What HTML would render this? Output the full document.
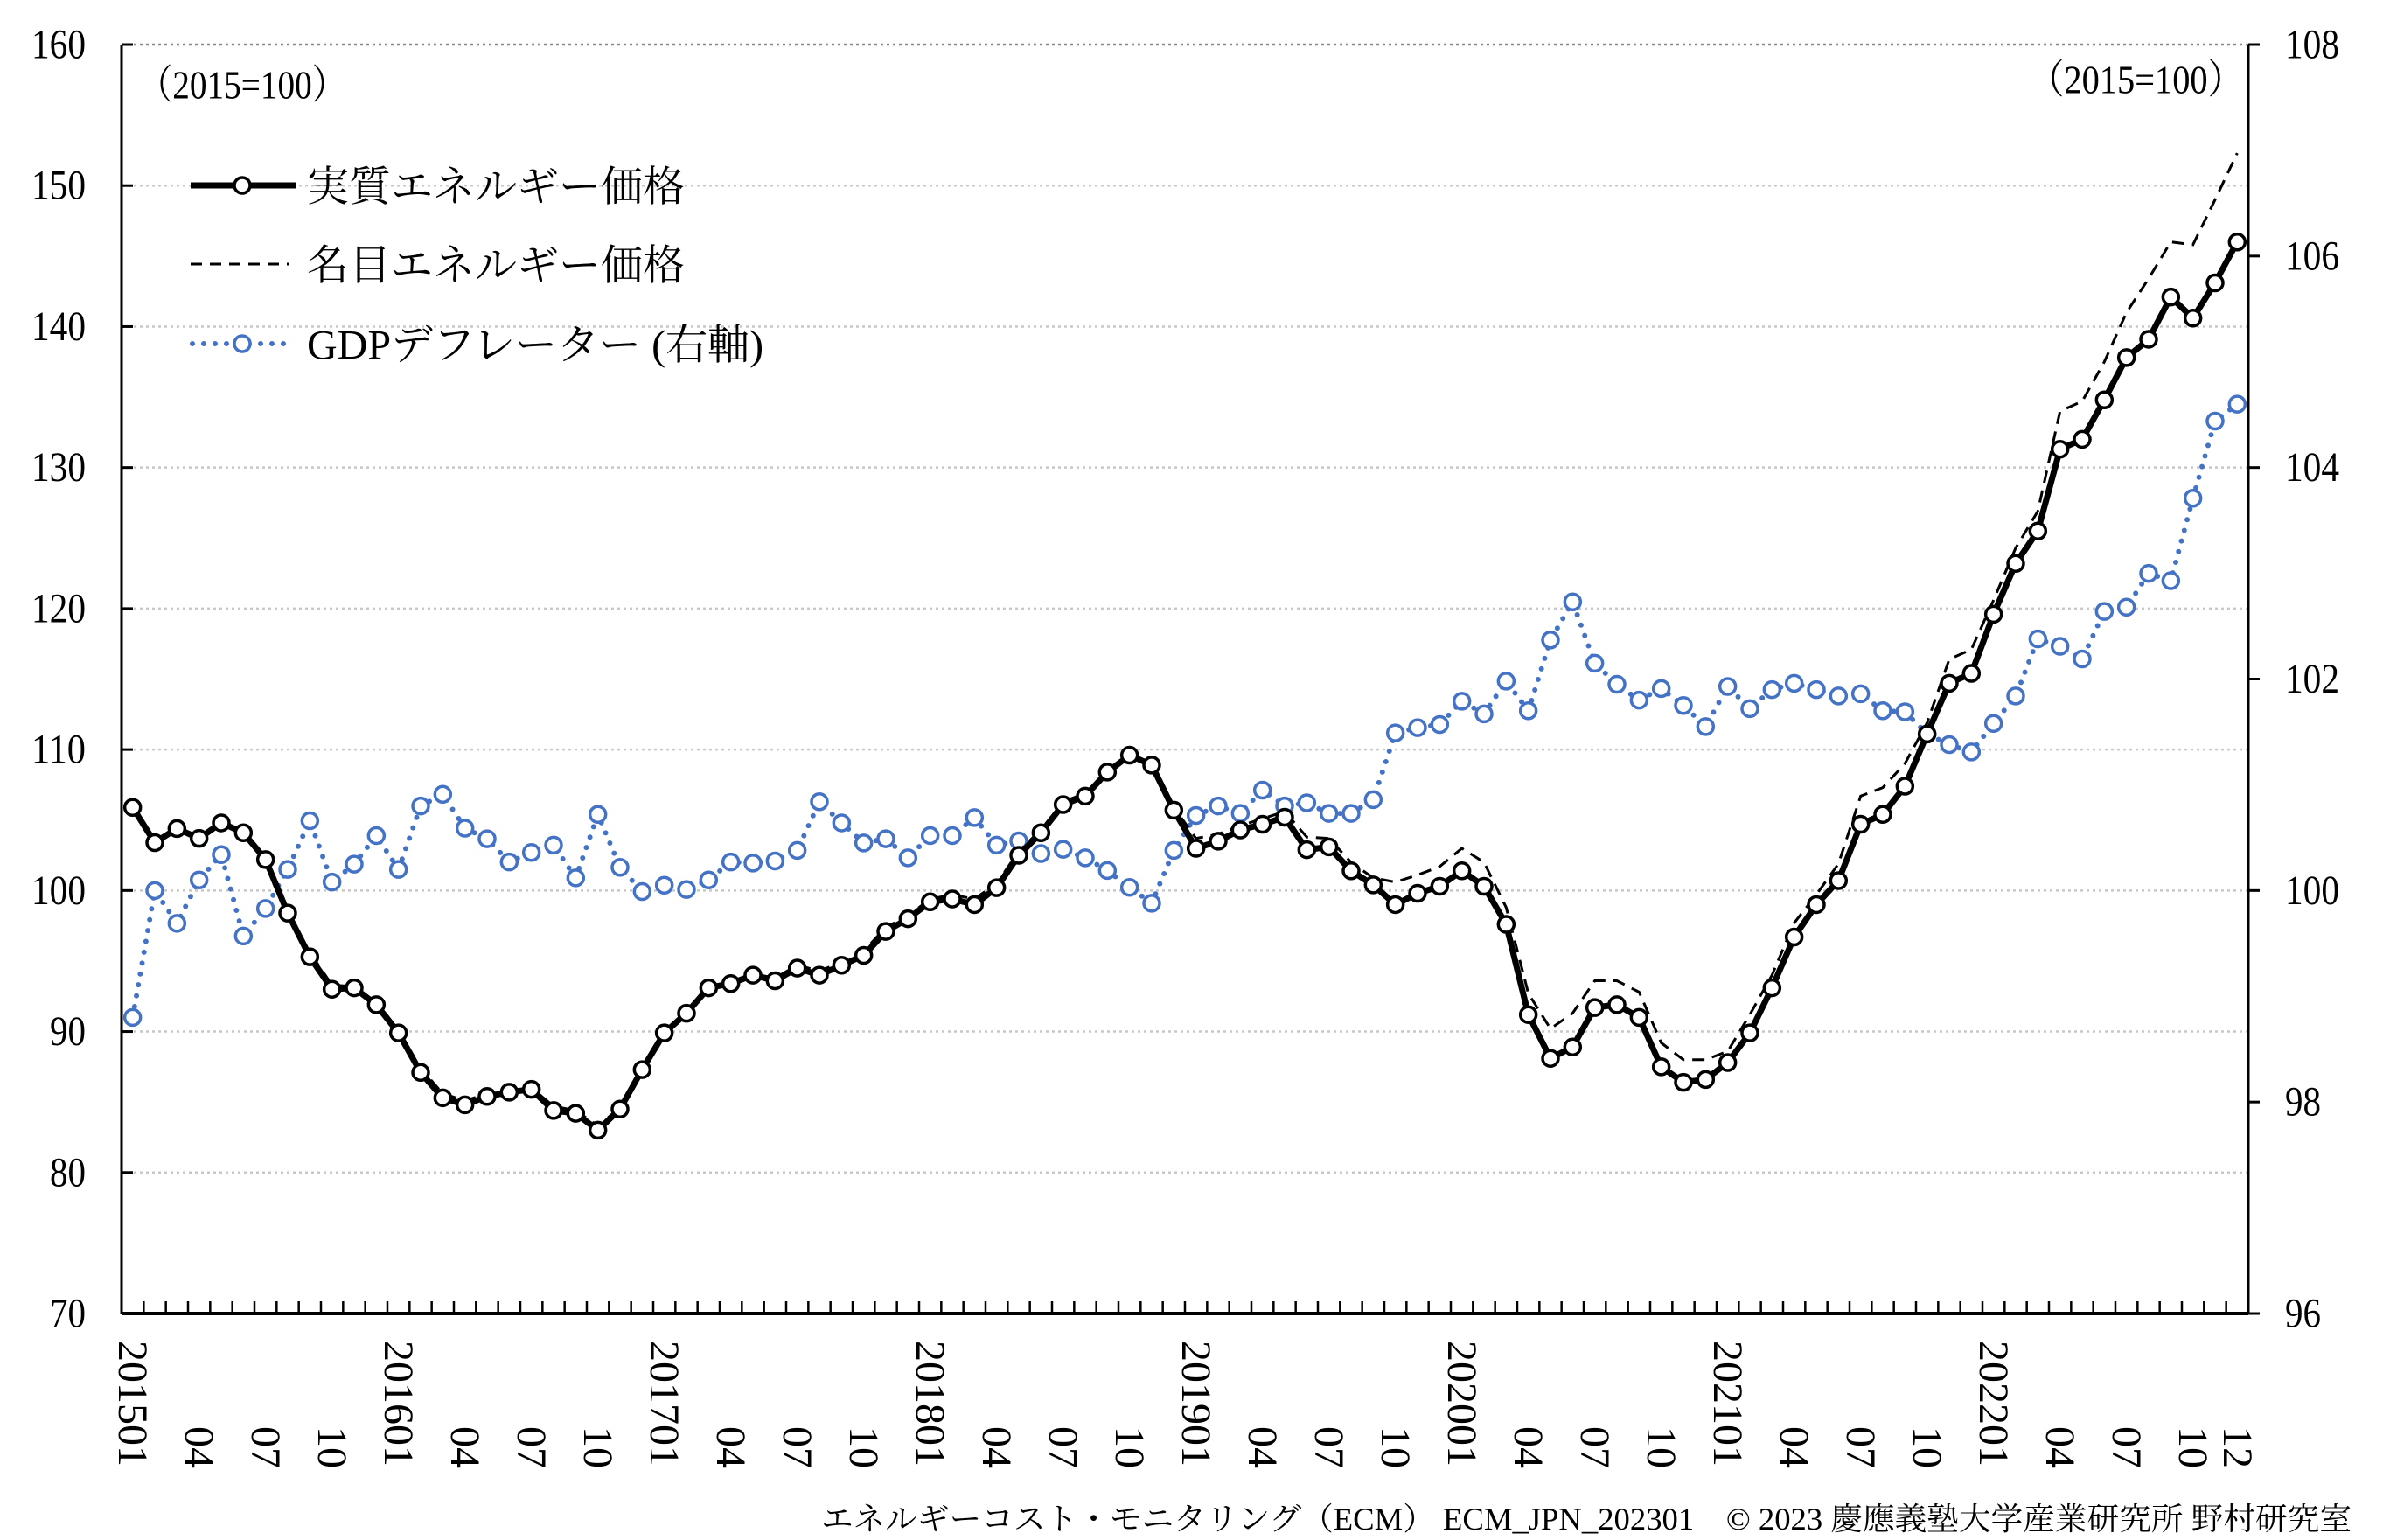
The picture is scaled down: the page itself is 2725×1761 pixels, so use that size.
<!DOCTYPE html>
<html><head><meta charset="utf-8"><style>
html,body{margin:0;padding:0;background:#fff}
svg{display:block}
text{font-family:"Liberation Serif","Noto Serif CJK JP",serif;fill:#000}
</style></head><body>
<svg id="chart" width="2725" height="1761" viewBox="0 0 2725 1761" xmlns="http://www.w3.org/2000/svg">
<g id="grid"></g>
<g id="axes"></g>
<g id="series"></g>
<g id="legend">
  <line x1="218" y1="212" x2="338" y2="212" stroke="#000" stroke-width="7"/>
  <circle cx="277" cy="212" r="9" fill="#fff" stroke="#000" stroke-width="3.5"/>
  <text x="351" y="214" font-size="48" dominant-baseline="central">実質エネルギー価格</text>
  <line x1="218" y1="302" x2="330" y2="302" stroke="#000" stroke-width="3" stroke-dasharray="13,9"/>
  <text x="351" y="304" font-size="48" dominant-baseline="central">名目エネルギー価格</text>
  <line x1="220" y1="393" x2="336" y2="393" stroke="#4472C4" stroke-width="6" stroke-linecap="round" stroke-dasharray="0,13"/>
  <circle cx="277" cy="393" r="9" fill="#fff" stroke="#4472C4" stroke-width="3.5"/>
  <text x="351" y="395" font-size="48" dominant-baseline="central">GDPデフレーター (右軸)</text>
</g>
<text x="158" y="97" font-size="46" dominant-baseline="central" textLength="238" lengthAdjust="spacingAndGlyphs">（2015=100）</text>
<text x="2565" y="91" font-size="46" dominant-baseline="central" text-anchor="end" textLength="245" lengthAdjust="spacingAndGlyphs">（2015=100）</text>
<text x="2689" y="1737" font-size="36" dominant-baseline="central" text-anchor="end" textLength="1750" lengthAdjust="spacingAndGlyphs">エネルギーコスト・モニタリング（ECM） ECM_JPN_202301　© 2023 慶應義塾大学産業研究所 野村研究室</text>
</svg>
<script>
const realPrice = [105.9,103.4,104.4,103.7,104.8,104.1,102.2,98.4,95.3,93.0,93.1,91.9,89.9,87.1,85.3,84.8,85.4,85.7,85.9,84.4,84.2,83.0,84.5,87.3,
89.9,91.3,93.1,93.4,94.0,93.6,94.5,94.0,94.7,95.4,97.1,98.0,99.2,99.4,99.0,100.2,102.5,104.1,106.1,106.7,108.4,109.6,108.9,105.7,
103.0,103.5,104.3,104.7,105.2,102.9,103.1,101.4,100.4,99.0,99.8,100.3,101.4,100.3,97.6,91.2,88.1,88.9,91.7,91.9,91.0,87.5,86.4,86.6,
87.8,89.9,93.1,96.7,99.0,100.7,104.7,105.4,107.4,111.1,114.7,115.4,119.6,123.2,125.5,131.3,132.0,134.8,137.8,139.1,142.1,140.6,143.1,146.0];
const nominalPrice = [105.9,103.6,104.4,103.8,104.9,104.2,102.4,98.6,95.6,93.3,93.2,92.1,90.1,87.4,85.6,85.1,85.6,85.9,86.0,84.7,84.4,83.3,84.6,87.3,
89.9,91.4,93.1,93.5,94.1,93.8,94.7,94.3,94.9,95.7,97.4,98.2,99.4,99.7,99.4,100.5,102.8,104.3,106.3,106.9,108.5,109.7,109.0,105.9,
103.7,104.0,104.6,105.1,105.6,103.8,103.7,102.0,100.9,100.6,101.1,101.7,103.0,102.0,98.8,92.7,90.2,91.3,93.6,93.6,92.8,89.2,88.0,88.0,
88.6,91.2,94.0,97.7,99.7,101.9,106.7,107.3,109.0,111.9,116.4,117.1,120.6,124.3,126.9,134.0,134.7,137.5,141.0,143.4,146.0,145.8,149.0,152.3];
const deflator = [98.80,100.00,99.69,100.10,100.34,99.57,99.83,100.20,100.66,100.08,100.25,100.52,100.20,100.80,100.91,100.59,100.49,100.27,100.36,100.43,100.12,100.72,100.22,99.99,
100.05,100.01,100.10,100.27,100.26,100.28,100.38,100.84,100.64,100.45,100.49,100.31,100.52,100.52,100.69,100.43,100.47,100.35,100.39,100.31,100.19,100.03,99.88,100.38,
100.71,100.80,100.73,100.95,100.80,100.83,100.73,100.73,100.86,101.49,101.54,101.57,101.79,101.67,101.98,101.70,102.37,102.73,102.15,101.95,101.80,101.91,101.75,101.55,
101.93,101.72,101.90,101.96,101.90,101.84,101.86,101.70,101.69,101.48,101.38,101.31,101.58,101.84,102.38,102.31,102.19,102.64,102.68,103.00,102.93,103.71,104.44,104.60];
const leftTicks = [70,80,90,100,110,120,130,140,150,160];
const rightTicks = [96,98,100,102,104,106,108];
const yearLabels = ["201501","201601","201701","201801","201901","202001","202101","202201"];
const monthLabels = ["04","07","10"];

const NS="http://www.w3.org/2000/svg";
const L=139,R=2571,T=51,B=1502,N=96;
const step=(R-L)/N;
const xAt=i=>L+(i+0.5)*step;
const yL=v=>B-(v-70)/(160-70)*(B-T);
const yR=v=>B-(v-96)/(108-96)*(B-T);
function mk(tag,attrs,parent){const e=document.createElementNS(NS,tag);for(const k in attrs)e.setAttribute(k,attrs[k]);parent.appendChild(e);return e;}
const grid=document.getElementById('grid'),axes=document.getElementById('axes'),series=document.getElementById('series'),svg=document.getElementById('chart');

leftTicks.forEach(v=>{
  if(v>70){const g=mk('line',{x1:L,x2:R,y1:yL(v),y2:yL(v),stroke:v==160?'#888':'#c8c8c8','stroke-width':2.5,'stroke-dasharray':'3,4'},grid);
  
  }
  const tk=mk('line',{x1:L,x2:L+13,y1:yL(v),y2:yL(v),stroke:'#000','stroke-width':3},axes);
  
  
  const t=mk('text',{x:98,y:yL(v),'font-size':48,'text-anchor':'end','dominant-baseline':'central',textLength:v>=100?62:41,lengthAdjust:'spacingAndGlyphs'},axes);
  t.textContent=v;
  
  
});
rightTicks.forEach(v=>{
  const tk=mk('line',{x1:R,x2:R+13,y1:yR(v),y2:yR(v),stroke:'#000','stroke-width':3},axes);
  
  
  const t=mk('text',{x:2613,y:yR(v),'font-size':48,'dominant-baseline':'central',textLength:v>=100?62:41,lengthAdjust:'spacingAndGlyphs'},axes);
  t.textContent=v;
  
  
});
const la=mk('line',{x1:L,x2:L,y1:T,y2:B,stroke:'#000','stroke-width':3},axes);


const ra=mk('line',{x1:R,x2:R,y1:T,y2:B,stroke:'#000','stroke-width':3},axes);


const ba=mk('line',{x1:L,x2:R,y1:B,y2:B,stroke:'#000','stroke-width':4},axes);


for(let i=1;i<N;i++){
  const tk=mk('line',{x1:L+i*step,x2:L+i*step,y1:B,y2:B-14,stroke:'#000','stroke-width':2.5},axes);
  
  
}
function xLabel(i,txt,anchor,y){
  const x=xAt(i);
  const t=mk('text',{x:x,y:y,'font-size':48,'text-anchor':anchor,'dominant-baseline':'central',transform:`rotate(90 ${x} ${y})`},axes);
  t.textContent=txt;
  
  
}
yearLabels.forEach((lab,k)=>{
  xLabel(k*12,lab,'start',1533);
  monthLabels.forEach((m,j)=>xLabel(k*12+3*(j+1),m,'end',1679));
});
xLabel(95,"12",'end',1679);

function pts(arr,f){return arr.map((v,i)=>xAt(i).toFixed(1)+','+f(v).toFixed(1)).join(' ');}
const dl=mk('polyline',{points:pts(deflator,yR),fill:'none',stroke:'#4472C4','stroke-width':6,'stroke-linecap':'round','stroke-dasharray':'0,12.6'},series);


deflator.forEach((v,i)=>{
  const c=mk('circle',{cx:xAt(i),cy:yR(v),r:9,fill:'#fff',stroke:'#4472C4','stroke-width':3.5},series);
  
  
});
const nl=mk('polyline',{points:pts(nominalPrice,yL),fill:'none',stroke:'#000','stroke-width':3,'stroke-dasharray':'14,9'},series);


const rl=mk('polyline',{points:pts(realPrice,yL),fill:'none',stroke:'#000','stroke-width':7,'stroke-linejoin':'round'},series);


realPrice.forEach((v,i)=>{
  const c=mk('circle',{cx:xAt(i),cy:yL(v),r:9,fill:'#fff',stroke:'#000','stroke-width':3.5},series);
  
  
});
</script>
</body></html>
